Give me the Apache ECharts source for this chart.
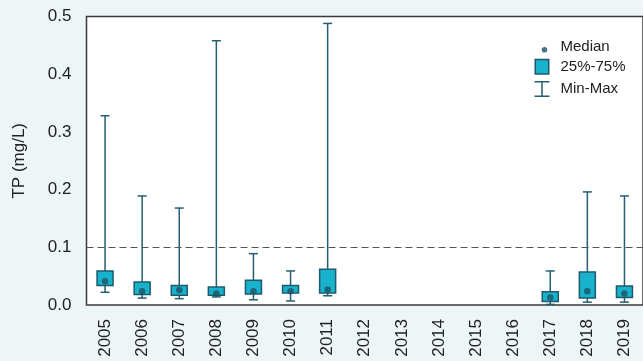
<!DOCTYPE html>
<html>
<head>
<meta charset="utf-8">
<script src="https://cdn.jsdelivr.net/npm/echarts@6/dist/echarts.min.js"></script>
<style>
html,body{margin:0;padding:0;background:#eef5f7;}
#c{width:643px;height:361px;}
</style>
</head>
<body>
<div id="c"></div>
<script>
var years = ['2005','2006','2007','2008','2009','2010','2011','2012','2013','2014','2015','2016','2017','2018','2019'];
var minV   = [0.022,0.012,0.011,0.014,0.009,0.007,0.016,null,null,null,null,null,0.001,0.005,0.005];
var q1V    = [0.034,0.018,0.017,0.017,0.019,0.021,0.021,null,null,null,null,null,0.006,0.012,0.013];
var medV   = [0.041,0.024,0.026,0.020,0.024,0.024,0.027,null,null,null,null,null,0.013,0.024,0.020];
var q3V    = [0.059,0.040,0.034,0.031,0.043,0.034,0.062,null,null,null,null,null,0.023,0.057,0.033];
var maxV   = [0.328,0.189,0.168,0.458,0.089,0.059,0.488,null,null,null,null,null,0.059,0.196,0.189];
var yTicks = [0,0.1,0.2,0.3,0.4,0.5];
var threshold = 0.1;

var lineColor = '#235e71';
var boxFill = '#19b2cc';
var boxBorder = '#1e5a6c';
var dotColor = '#1b5264';
var font = 'Arial, "Liberation Sans", sans-serif';

var whiskerData = [], boxData = [], medData = [];
years.forEach(function(y, i){
  if (minV[i] == null) return;
  whiskerData.push([i, minV[i], maxV[i]]);
  boxData.push([i, q1V[i], q3V[i]]);
  medData.push([i, medV[i]]);
});

var chart = echarts.init(document.getElementById('c'), null, {renderer:'canvas'});
chart.setOption({
  backgroundColor: '#eef5f7',
  animation: false,
  grid: {left: 86.5, top: 16.5, width: 560.5, height: 288.5, show: true, backgroundColor: '#ffffff', borderColor: '#3a3a3a', borderWidth: 1.5},
  legend: {
    orient: 'vertical', left: 532, top: 39, padding: 0,
    itemWidth: 21, itemHeight: 16, itemGap: 3,
    textStyle: {fontFamily: font, fontSize: 15, color: '#222', lineHeight: 16},
    data: [
      {name: 'Median', icon: 'path://M0,0M21,16M10,8A2.8,2.8 0 1,1 9.99,8Z', itemStyle: {color: dotColor, borderWidth: 0}},
      {name: '25%-75%', icon: 'path://M0,0M21,16M0.75,0.75H14.25V15.25H0.75Z', itemStyle: {color: boxFill, borderColor: boxBorder, borderWidth: 1.5}},
      {name: 'Min-Max', icon: 'path://M0,0M21,16M0,0.75H15M7.5,0.75V15.25M0,15.25H15', itemStyle: {color: 'none', borderColor: lineColor, borderWidth: 1.5}}
    ]
  },
  xAxis: {
    type: 'category', data: years,
    axisLine: {show: false}, axisTick: {show: false},
    axisLabel: {rotate: 90, margin: 14, fontFamily: font, fontSize: 17, color: '#222'},
    splitLine: {show: false}
  },
  yAxis: {
    type: 'value', min: 0, max: 0.5, interval: 0.1,
    name: 'TP (mg/L)', nameLocation: 'middle', nameGap: 59, nameRotate: 90,
    nameTextStyle: {fontFamily: font, fontSize: 17, color: '#222'},
    axisLine: {show: false}, axisTick: {show: false}, splitLine: {show: false},
    axisLabel: {margin: 15, fontFamily: font, fontSize: 17, color: '#222', formatter: function(v){ return v.toFixed(1); }}
  },
  series: [
    {
      name: 'Min-Max', type: 'custom', data: whiskerData, z: 2,
      itemStyle: {color: lineColor},
      encode: {x: 0, y: [1, 2]},
      renderItem: function(params, api){
        var lo = api.coord([api.value(0), api.value(1)]);
        var hi = api.coord([api.value(0), api.value(2)]);
        var hw = 4.5;
        var st = {stroke: lineColor, lineWidth: 1.5, fill: null};
        return {type: 'group', children: [
          {type: 'line', shape: {x1: lo[0], y1: lo[1], x2: hi[0], y2: hi[1]}, style: st},
          {type: 'line', shape: {x1: lo[0]-hw, y1: lo[1], x2: lo[0]+hw, y2: lo[1]}, style: st},
          {type: 'line', shape: {x1: hi[0]-hw, y1: hi[1], x2: hi[0]+hw, y2: hi[1]}, style: st}
        ]};
      },
      markLine: {
        silent: true, symbol: ['none','none'], label: {show: false},
        lineStyle: {color: '#555', type: [7, 4], width: 1},
        data: [{yAxis: threshold}]
      }
    },
    {
      name: '25%-75%', type: 'custom', data: boxData, z: 3,
      itemStyle: {color: boxFill},
      encode: {x: 0, y: [1, 2]},
      renderItem: function(params, api){
        var lo = api.coord([api.value(0), api.value(1)]);
        var hi = api.coord([api.value(0), api.value(2)]);
        var hw = 8;
        return {type: 'rect', shape: {x: lo[0]-hw, y: hi[1], width: hw*2, height: lo[1]-hi[1]},
          style: {fill: boxFill, stroke: boxBorder, lineWidth: 1.5}};
      }
    },
    {
      name: 'Median', type: 'scatter', data: medData, z: 4,
      symbol: 'circle', symbolSize: 6.5,
      itemStyle: {color: dotColor}
    }
  ]
});
</script>
</body>
</html>
